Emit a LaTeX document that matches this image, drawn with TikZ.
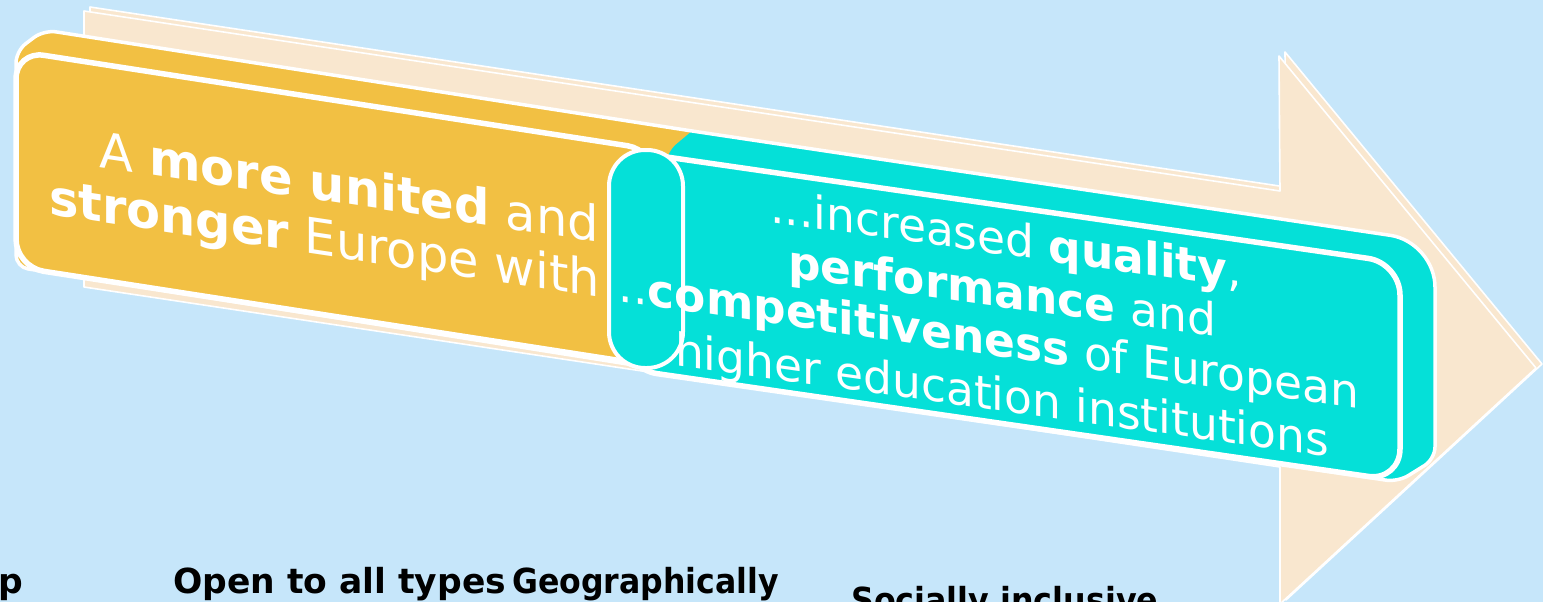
\documentclass[tikz,border=0pt]{standalone}
\usepackage{fontspec}
\setmainfont{DejaVu Sans}
\definecolor{bgblue}{HTML}{C6E6FA}
\definecolor{beige}{HTML}{F9E7CF}
\definecolor{gold}{HTML}{F2C043}
\definecolor{aqua}{HTML}{05E0D8}
\begin{document}
\begin{tikzpicture}[x=1pt,y=-1pt,
  arrowface/.style={fill=beige,draw=white,line width=1.6pt,line join=round},
  silh/.style={draw=white,line width=3.5pt,line join=round},
  frontface/.style={draw=white,line width=5.5pt,line join=round},
  pillst/.style={fill=aqua,draw=white,line width=4pt},
  boxtext/.style={text=white,inner sep=0pt,transform shape},
  ytext/.style={boxtext,font=\fontsize{49.5}{55}\selectfont},
  ttext/.style={boxtext,font=\fontsize{45.5}{52}\selectfont},
  bottomlabel/.style={text=black,inner sep=0pt,font=\fontsize{34.5}{40}\selectfont\bfseries}
]
\useasboundingbox (0,0) rectangle (1543,602);
\fill[bgblue] (0,0) rectangle (1543,602);

% big arrow: back face then front face
\draw[arrowface] (90,7) -- (1286,187) -- (1285,52) -- (1542,364) -- (1286,600) -- (1286,463) -- (90,283) -- cycle;
\draw[arrowface] (84,11) -- (1280,191) -- (1279,56) -- (1536,368) -- (1280,604) -- (1280,467) -- (84,287) -- cycle;

% box silhouette (depth)
\fill[gold] (16,160) [rounded corners=12] -- (16,51) -- (44,30) -- (692,131) -- (1100,192) [rounded corners=45] -- (1435,242) -- (1435,350) [rounded corners=12] -- (1435,459) -- (1398,482) -- (640,366) -- (16,267) -- cycle;
\fill[aqua] (667,152) -- (692,131) -- (1100,192) [rounded corners=45] -- (1435,242) -- (1435,350) [rounded corners=12] -- (1435,459) -- (1398,482) -- (640,366) -- cycle;
\draw[silh] (16,160) [rounded corners=12] -- (16,51) -- (44,30) -- (692,131) -- (1100,192) [rounded corners=45] -- (1435,242) -- (1435,350) [rounded corners=12] -- (1435,459) -- (1398,482) -- (640,366) -- (16,267) -- cycle;

% front faces
\draw[frontface,fill=gold,rounded corners=28] (16,160) -- (16,51) -- (655,150) -- (655,366) -- (16,267) -- cycle;
\draw[frontface,fill=aqua,rounded corners=32] (625,260) -- (625,151) -- (1400,263) -- (1400,481) -- (625,369) -- cycle;

% pill
\draw[pillst,rounded corners=36] (609,150) rectangle (683,368);

% yellow text
\begin{scope}[shift={(599,242)},yslant=-0.15]
\node[ytext,anchor=base east] (y1) at (0,0) {A \textbf{more united} and};
\end{scope}
\begin{scope}[shift={(600,297)},yslant=-0.15]
\node[ytext,anchor=base east] (y2) at (0,0) {\textbf{stronger} Europe with};
\end{scope}

% teal text
\begin{scope}[shift={(1006,255)},yslant=-0.14]
\node[ttext,anchor=base] (t1) at (0,0) {...increased \textbf{quality},};
\end{scope}
\begin{scope}[shift={(1002,307)},yslant=-0.14]
\node[ttext,anchor=base] (t2) at (0,0) {\textbf{performance} and};
\end{scope}
\begin{scope}[shift={(989,355)},yslant=-0.145]
\node[ttext,anchor=base] (t3) at (0,0) {..\textbf{competitiveness} of European};
\end{scope}
\begin{scope}[shift={(1002,411)},yslant=-0.14]
\node[ttext,anchor=base] (t4) at (0,0) {higher education institutions};
\end{scope}

% bottom labels
\node[bottomlabel,anchor=base west] (b1) at (-2,593) {p};
\node[bottomlabel,anchor=base west] (b2) at (173,593) {Open to all types};
\node[bottomlabel,anchor=base west,xscale=0.915] (b3) at (512,593) {Geographically};
\node[bottomlabel,anchor=base west,xscale=0.92] (b4) at (851,612) {Socially inclusive};
\end{tikzpicture}
\end{document}
